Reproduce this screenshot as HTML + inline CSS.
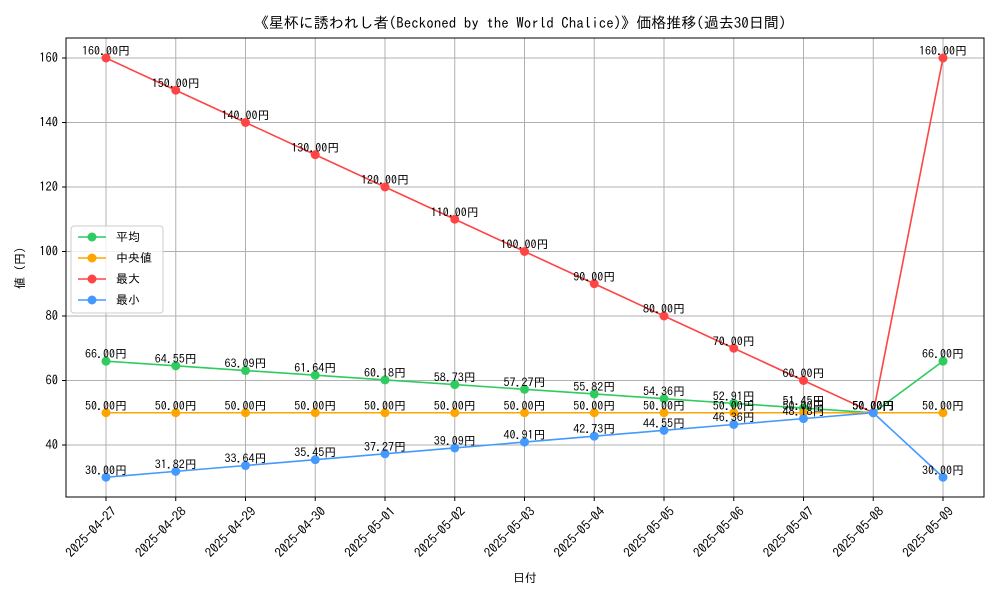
<!DOCTYPE html>
<html><head><meta charset="utf-8"><style>
body{margin:0;background:#fff}
svg{font-family:"IPAGothic","Liberation Sans","Noto Sans CJK JP",sans-serif}
</style></head><body>
<svg id="chart" width="1000" height="600" xmlns="http://www.w3.org/2000/svg">
<rect width="1000" height="600" fill="#fff"/>
<text x="520" y="28" font-size="15" text-anchor="middle">《星杯に誘われし者(Beckoned by the World Chalice)》価格推移(過去30日間)</text>
<g id="grid"></g>
<rect x="66" y="38" width="918" height="459" fill="none" stroke="#000" stroke-width="1"/>
<g id="axes"></g>
<g id="series"></g>
<text x="525" y="582" font-size="12" text-anchor="middle">日付</text>
<text transform="translate(24,268) rotate(-90)" font-size="12" text-anchor="middle">値 (円)</text>
<g id="legend"></g>
</svg>
<script>
const categories=["2025-04-27","2025-04-28","2025-04-29","2025-04-30","2025-05-01","2025-05-02","2025-05-03","2025-05-04","2025-05-05","2025-05-06","2025-05-07","2025-05-08","2025-05-09"];
const avgValues=[66,64.55,63.09,61.64,60.18,58.73,57.27,55.82,54.36,52.91,51.45,50,66];
const medianValues=[50,50,50,50,50,50,50,50,50,50,50,50,50];
const maxValues=[160,150,140,130,120,110,100,90,80,70,60,50,160];
const minValues=[30,31.82,33.64,35.45,37.27,39.09,40.91,42.73,44.55,46.36,48.18,50,30];
const yTicks=[40,60,80,100,120,140,160];
const seriesNames=["平均","中央値","最大","最小"];
const NS="http://www.w3.org/2000/svg";
const X0=106,X1=943,Y40=445,PX_PER=3.225;
function xs(i){return X0+i*(X1-X0)/(categories.length-1);}
function ys(v){return Y40-(v-40)*PX_PER;}
function mk(tag,attrs,parent,txt){const e=document.createElementNS(NS,tag);for(const k in attrs)e.setAttribute(k,attrs[k]);if(txt!==undefined)e.textContent=txt;parent.appendChild(e);return e;}
const grid=document.getElementById('grid'),axes=document.getElementById('axes'),ser=document.getElementById('series'),leg=document.getElementById('legend');
categories.forEach((c,i)=>{
 const x=xs(i);
 const g=mk('line',{x1:x,x2:x,y1:38,y2:497,stroke:'#b0b0b0','stroke-width':1},grid);
 
 
 mk('line',{x1:x,x2:x,y1:497,y2:501,stroke:'#000'},axes);
 const t=mk('text',{transform:`translate(${x+5},${506}) rotate(-45)`,'font-size':13,'text-anchor':'end','dominant-baseline':'hanging'},axes,c);
 
 
});
yTicks.forEach(v=>{
 const y=ys(v);
 const g=mk('line',{x1:66,x2:984,y1:y,y2:y,stroke:'#b0b0b0','stroke-width':1},grid);
 
 
 mk('line',{x1:62,x2:66,y1:y,y2:y,stroke:'#000'},axes);
 const t=mk('text',{x:58,y:y+4,'font-size':12.5,'text-anchor':'end'},axes,String(v));
 
 
});
const all=[[avgValues,'#2ecc5f','avg'],[medianValues,'#ffa500','median'],[maxValues,'#ff4444','max'],[minValues,'#4499ff','min']];
all.forEach(([vals,col,nm])=>{
 const g=mk('g',{},ser);
 
 
 const p=mk('polyline',{points:vals.map((v,i)=>xs(i)+','+ys(v)).join(' '),fill:'none',stroke:col,'stroke-width':1.6},g);
 
 
 vals.forEach((v,i)=>{
  const c=mk('circle',{cx:xs(i),cy:ys(v),r:4.5,fill:col},g);
  
  
  const t=mk('text',{x:xs(i),y:ys(v)-3,'font-size':12,'text-anchor':'middle'},g,v.toFixed(2)+'円');
  
  
 });
});
mk('rect',{x:71,y:226,width:92,height:87,rx:3,fill:'#fff','fill-opacity':0.8,stroke:'#ccc'},leg);
all.forEach(([v,col,nm],k)=>{
 const y=237+k*21;
 const e=mk('g',{},leg);
 
 
 mk('line',{x1:78,x2:106,y1:y,y2:y,stroke:col,'stroke-width':1.6},e);
 mk('circle',{cx:92,cy:y,r:4.5,fill:col},e);
 mk('text',{x:116,y:y+4,'font-size':12},e,seriesNames[k]);
});
</script>
</body></html>
